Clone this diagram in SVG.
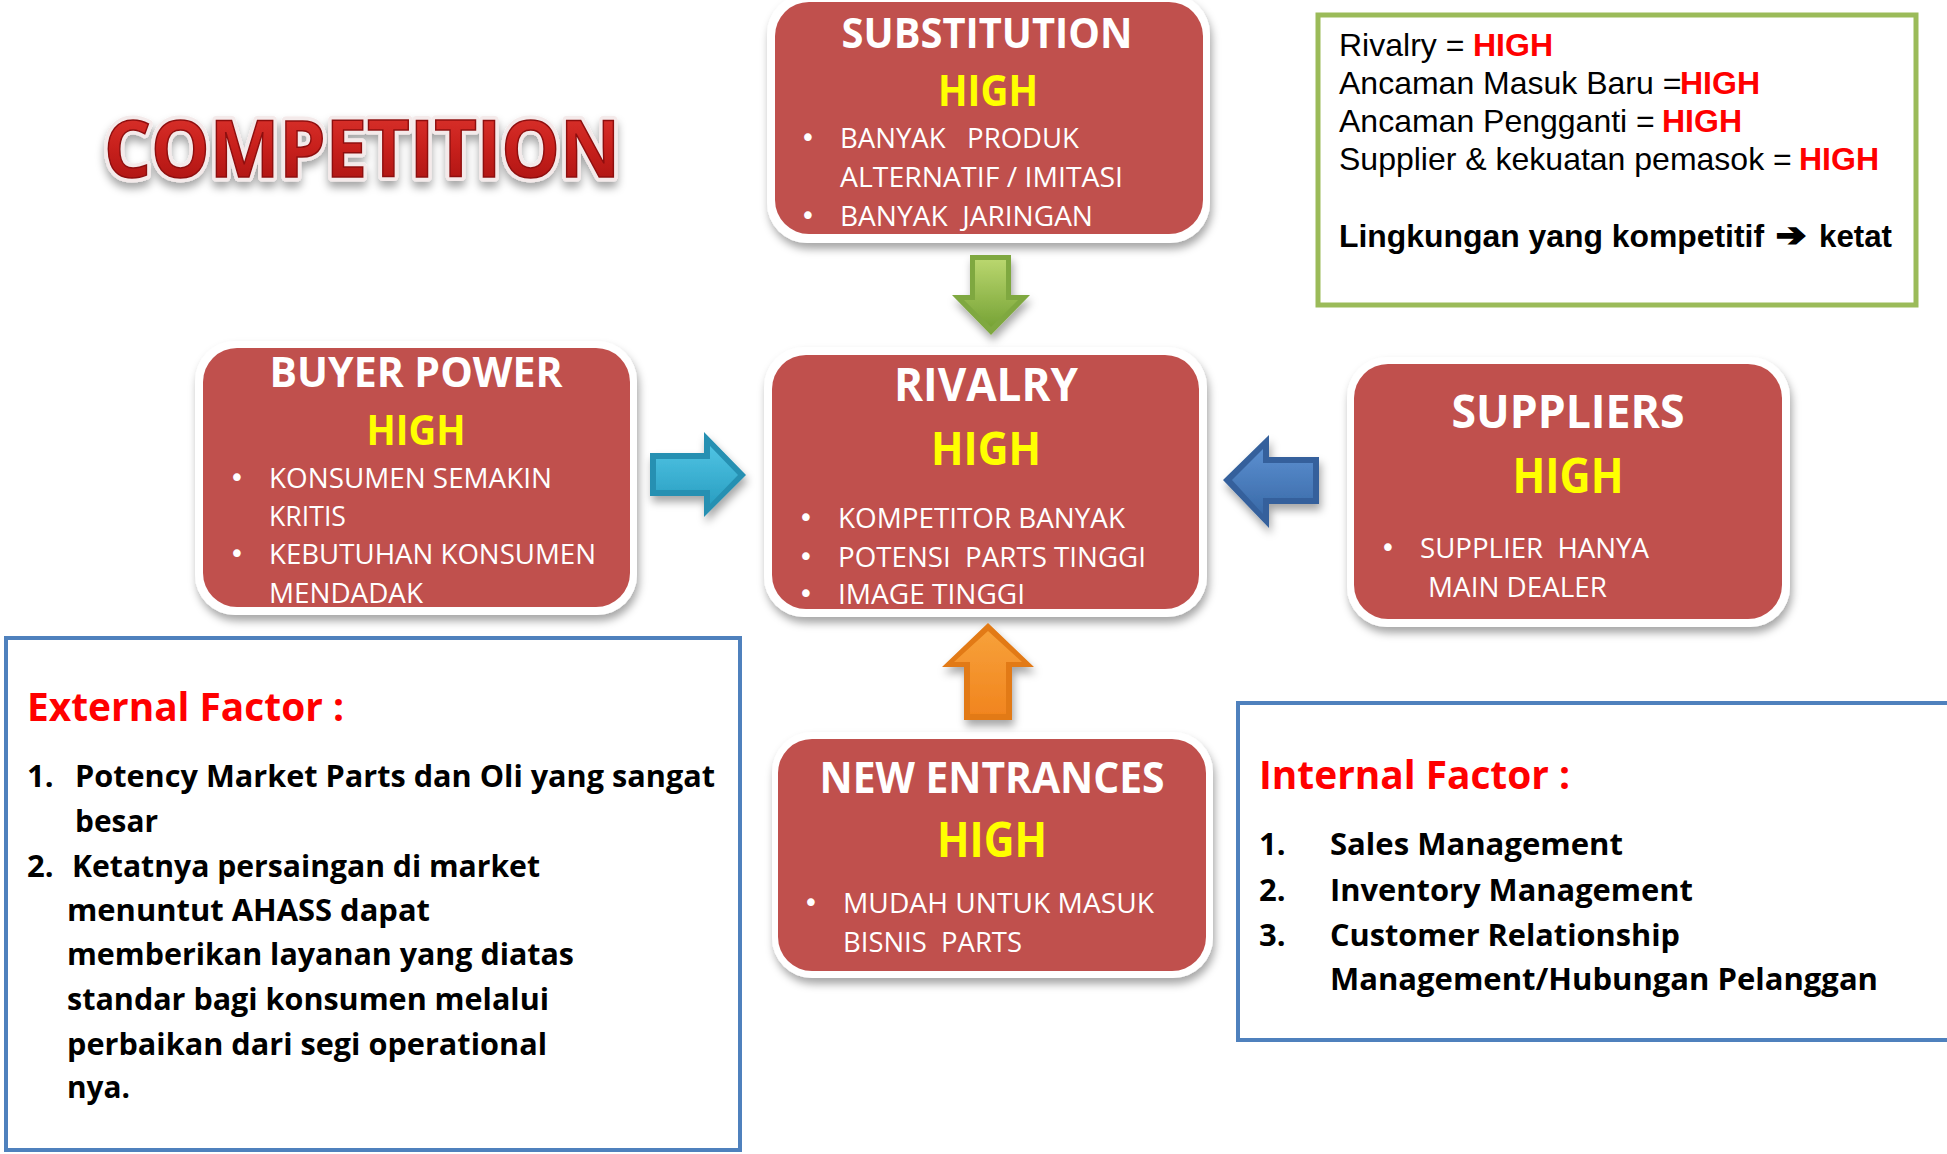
<svg xmlns="http://www.w3.org/2000/svg" width="1947" height="1154" viewBox="0 0 1947 1154">
<defs>
  <filter id="shadow" x="-10%" y="-10%" width="125%" height="130%">
    <feDropShadow dx="2" dy="6" stdDeviation="4" flood-color="#000" flood-opacity="0.35"/>
  </filter>
  <filter id="tshadow" x="-5%" y="-20%" width="110%" height="160%">
    <feDropShadow dx="0" dy="6" stdDeviation="4" flood-color="#000" flood-opacity="0.35"/>
  </filter>
  <linearGradient id="gRed" x1="0" y1="0" x2="0" y2="1">
    <stop offset="0" stop-color="#e23a33"/>
    <stop offset="0.5" stop-color="#c8201c"/>
    <stop offset="1" stop-color="#a3100f"/>
  </linearGradient>
  <linearGradient id="gGreen" x1="0" y1="0" x2="0" y2="1">
    <stop offset="0" stop-color="#b9d66e"/>
    <stop offset="1" stop-color="#77a336"/>
  </linearGradient>
  <linearGradient id="gCyan" x1="0" y1="0" x2="0" y2="1">
    <stop offset="0" stop-color="#4fc3e3"/>
    <stop offset="1" stop-color="#2a9fc2"/>
  </linearGradient>
  <linearGradient id="gBlue" x1="0" y1="0" x2="0" y2="1">
    <stop offset="0" stop-color="#5b8fd0"/>
    <stop offset="1" stop-color="#3a6aa8"/>
  </linearGradient>
  <linearGradient id="gOrange" x1="0" y1="0" x2="0" y2="1">
    <stop offset="0" stop-color="#f7a13a"/>
    <stop offset="1" stop-color="#f1851f"/>
  </linearGradient>
  <style>
    .outer { fill: #ffffff; filter: url(#shadow); }
    .inner { fill: #c0504d; }
    .title { font-family: "Open Sans", Lato, sans-serif; font-weight: bold; fill: #ffffff; text-anchor: middle; }
    .high { font-family: "Open Sans", Lato, sans-serif; font-weight: bold; fill: #ffff00; text-anchor: middle; }
    .bul { font-family: "Open Sans", Lato, sans-serif; font-size: 27px; fill: #ffffff; }
    .dot { font-family: "DejaVu Sans", sans-serif; font-size: 26px; fill: #ffffff; text-anchor: middle; }
    .ar { font-family: "Liberation Sans", Arial, sans-serif; font-size: 32px; fill: #000000; }
    .arb { font-weight: bold; fill: #ff0000; }
    .fac { font-family: "Open Sans", Lato, sans-serif; font-weight: bold; font-size: 40px; fill: #ff0000; }
    .itm { font-family: "Open Sans", Lato, sans-serif; font-weight: bold; font-size: 31px; fill: #000000; }
    .conn { stroke-linejoin: miter; }
  </style>
</defs>
<rect x="0" y="0" width="1947" height="1154" fill="#ffffff"/>

<g id="title">
  <text x="104" y="177" font-family="'Open Sans', Lato, sans-serif" font-weight="bold" font-size="78" textLength="516" lengthAdjust="spacingAndGlyphs" fill="#ffffff" stroke="#f4eaea" stroke-width="9" stroke-linejoin="round" filter="url(#tshadow)">COMPETITION</text>
  <text x="104" y="177" font-family="'Open Sans', Lato, sans-serif" font-weight="bold" font-size="78" textLength="516" lengthAdjust="spacingAndGlyphs" fill="url(#gRed)" stroke="#8e0e0e" stroke-width="1.5">COMPETITION</text>
</g>

<g id="substitution">
  <rect class="outer" x="767" y="-6" width="443" height="249" rx="40"/>
  <rect class="inner" x="775" y="2" width="428" height="232" rx="34"/>
  <text class="title" x="987" y="48" font-size="41" textLength="291" lengthAdjust="spacingAndGlyphs">SUBSTITUTION</text>
  <text class="high" x="988" y="106" font-size="43" textLength="100" lengthAdjust="spacingAndGlyphs">HIGH</text>
  <text class="dot" x="808" y="147">•</text>
  <text class="bul" x="840" y="148" textLength="239" lengthAdjust="spacingAndGlyphs" xml:space="preserve">BANYAK   PRODUK</text>
  <text class="bul" x="840" y="187" textLength="283" lengthAdjust="spacingAndGlyphs">ALTERNATIF / IMITASI</text>
  <text class="dot" x="808" y="225">•</text>
  <text class="bul" x="840" y="226" textLength="253" lengthAdjust="spacingAndGlyphs" xml:space="preserve">BANYAK  JARINGAN</text>
</g>

<g id="buyer-power">
  <rect class="outer" x="195" y="341" width="442" height="274" rx="40"/>
  <rect class="inner" x="203" y="348" width="427" height="259" rx="34"/>
  <text class="title" x="416" y="387" font-size="41" textLength="293" lengthAdjust="spacingAndGlyphs">BUYER POWER</text>
  <text class="high" x="416" y="445" font-size="42" textLength="99" lengthAdjust="spacingAndGlyphs">HIGH</text>
  <text class="dot" x="237" y="487">•</text>
  <text class="bul" x="269" y="488" textLength="283" lengthAdjust="spacingAndGlyphs">KONSUMEN SEMAKIN</text>
  <text class="bul" x="269" y="526" textLength="77" lengthAdjust="spacingAndGlyphs">KRITIS</text>
  <text class="dot" x="237" y="563">•</text>
  <text class="bul" x="269" y="564" textLength="327" lengthAdjust="spacingAndGlyphs">KEBUTUHAN KONSUMEN</text>
  <text class="bul" x="269" y="603" textLength="154" lengthAdjust="spacingAndGlyphs">MENDADAK</text>
</g>

<g id="rivalry">
  <rect class="outer" x="764" y="347" width="443" height="270" rx="40"/>
  <rect class="inner" x="772" y="355" width="427" height="254" rx="34"/>
  <text class="title" x="986" y="401" font-size="47" textLength="184" lengthAdjust="spacingAndGlyphs">RIVALRY</text>
  <text class="high" x="986" y="465" font-size="47" textLength="110" lengthAdjust="spacingAndGlyphs">HIGH</text>
  <text class="dot" x="806" y="527">•</text>
  <text class="bul" x="838" y="528" textLength="287" lengthAdjust="spacingAndGlyphs">KOMPETITOR BANYAK</text>
  <text class="dot" x="806" y="566">•</text>
  <text class="bul" x="838" y="567" textLength="308" lengthAdjust="spacingAndGlyphs" xml:space="preserve">POTENSI  PARTS TINGGI</text>
  <text class="dot" x="806" y="603">•</text>
  <text class="bul" x="838" y="604" textLength="187" lengthAdjust="spacingAndGlyphs">IMAGE TINGGI</text>
</g>

<g id="suppliers">
  <rect class="outer" x="1347" y="357" width="443" height="270" rx="40"/>
  <rect class="inner" x="1354" y="364" width="428" height="255" rx="34"/>
  <text class="title" x="1568" y="428" font-size="47" textLength="233" lengthAdjust="spacingAndGlyphs">SUPPLIERS</text>
  <text class="high" x="1568" y="493" font-size="48" textLength="111" lengthAdjust="spacingAndGlyphs">HIGH</text>
  <text class="dot" x="1388" y="557">•</text>
  <text class="bul" x="1420" y="558" textLength="229" lengthAdjust="spacingAndGlyphs" xml:space="preserve">SUPPLIER  HANYA</text>
  <text class="bul" x="1428" y="597" textLength="179" lengthAdjust="spacingAndGlyphs">MAIN DEALER</text>
</g>

<g id="new-entrances">
  <rect class="outer" x="772" y="732" width="441" height="246" rx="40"/>
  <rect class="inner" x="778" y="739" width="428" height="232" rx="34"/>
  <text class="title" x="992" y="793" font-size="43" textLength="345" lengthAdjust="spacingAndGlyphs">NEW ENTRANCES</text>
  <text class="high" x="992" y="857" font-size="48" textLength="110" lengthAdjust="spacingAndGlyphs">HIGH</text>
  <text class="dot" x="811" y="912">•</text>
  <text class="bul" x="843" y="913" textLength="311" lengthAdjust="spacingAndGlyphs">MUDAH UNTUK MASUK</text>
  <text class="bul" x="843" y="952" textLength="179" lengthAdjust="spacingAndGlyphs" xml:space="preserve">BISNIS  PARTS</text>
</g>

<g id="summary">
  <rect x="1318" y="15" width="598" height="290" fill="#ffffff" stroke="#9bbb59" stroke-width="5"/>
  <text class="ar" x="1339" y="56">Rivalry = <tspan class="arb" x="1473">HIGH</tspan></text>
  <text class="ar" x="1339" y="94">Ancaman Masuk Baru =<tspan class="arb" x="1680">HIGH</tspan></text>
  <text class="ar" x="1339" y="132">Ancaman Pengganti = <tspan class="arb" x="1662">HIGH</tspan></text>
  <text class="ar" x="1339" y="170">Supplier &amp; kekuatan pemasok = <tspan class="arb" x="1799">HIGH</tspan></text>
  <text class="ar" x="1339" y="247" font-weight="bold" textLength="425" lengthAdjust="spacingAndGlyphs">Lingkungan yang kompetitif</text>
  <text x="1776" y="246" font-family="'DejaVu Sans', sans-serif" font-size="32" font-weight="bold" fill="#000000" stroke="#000000" stroke-width="2" textLength="30" lengthAdjust="spacingAndGlyphs">➔</text>
  <text class="ar" x="1819" y="247" font-weight="bold" fill="#ff0000" textLength="73" lengthAdjust="spacingAndGlyphs">ketat</text>
</g>

<g id="external-factor">
  <rect x="6" y="638" width="734" height="512" fill="none" stroke="#4f81bd" stroke-width="4"/>
  <text class="fac" x="27" y="721" textLength="317" lengthAdjust="spacingAndGlyphs">External Factor :</text>
  <text class="itm" x="27" y="787">1.</text>
  <text class="itm" x="75" y="787" textLength="640" lengthAdjust="spacingAndGlyphs">Potency Market Parts dan Oli yang sangat</text>
  <text class="itm" x="75" y="832" textLength="83" lengthAdjust="spacingAndGlyphs">besar</text>
  <text class="itm" x="27" y="877">2.</text>
  <text class="itm" x="72" y="877" textLength="468" lengthAdjust="spacingAndGlyphs">Ketatnya persaingan di market</text>
  <text class="itm" x="67" y="921" textLength="363" lengthAdjust="spacingAndGlyphs">menuntut AHASS dapat</text>
  <text class="itm" x="67" y="965" textLength="507" lengthAdjust="spacingAndGlyphs">memberikan layanan yang diatas</text>
  <text class="itm" x="67" y="1010" textLength="482" lengthAdjust="spacingAndGlyphs">standar bagi konsumen melalui</text>
  <text class="itm" x="67" y="1055" textLength="480" lengthAdjust="spacingAndGlyphs">perbaikan dari segi operational</text>
  <text class="itm" x="67" y="1098" textLength="63" lengthAdjust="spacingAndGlyphs">nya.</text>
</g>

<g id="internal-factor">
  <rect x="1238" y="703" width="730" height="337" fill="none" stroke="#4f81bd" stroke-width="4"/>
  <text class="fac" x="1259" y="789" textLength="311" lengthAdjust="spacingAndGlyphs">Internal Factor :</text>
  <text class="itm" x="1259" y="855" font-size="32">1.</text>
  <text class="itm" x="1330" y="855" font-size="32" textLength="293" lengthAdjust="spacingAndGlyphs">Sales Management</text>
  <text class="itm" x="1259" y="901" font-size="32">2.</text>
  <text class="itm" x="1330" y="901" font-size="32" textLength="363" lengthAdjust="spacingAndGlyphs">Inventory Management</text>
  <text class="itm" x="1259" y="946" font-size="32">3.</text>
  <text class="itm" x="1330" y="946" font-size="32" textLength="350" lengthAdjust="spacingAndGlyphs">Customer Relationship</text>
  <text class="itm" x="1330" y="990" font-size="32" textLength="548" lengthAdjust="spacingAndGlyphs">Management/Hubungan Pelanggan</text>
</g>

<g id="connectors" filter="url(#shadow)">
  <!-- substitution -> rivalry (green, down) -->
  <g>
    <polygon class="conn" points="970,255 1011,255 1011,295 1030,295 991,335 952,295 970,295" fill="#7fa83f"/>
    <polygon points="975,260 1006,260 1006,300 1018,300 991,327 964,300 975,300" fill="url(#gGreen)"/>
  </g>
  <!-- buyer power -> rivalry (cyan, right) -->
  <g>
    <polygon class="conn" points="650,453 704,453 704,432 746,475 704,517 704,496 650,496" fill="#2690b2"/>
    <polygon points="656,459 710,459 710,446 738,475 710,504 710,490 656,490" fill="url(#gCyan)"/>
  </g>
  <!-- suppliers -> rivalry (blue, left) -->
  <g>
    <polygon class="conn" points="1319,457 1269,457 1269,435 1223,480 1269,528 1269,504 1319,504" fill="#34619c"/>
    <polygon points="1313,463 1263,463 1263,449 1232,480 1263,514 1263,498 1313,498" fill="url(#gBlue)"/>
  </g>
  <!-- new entrances -> rivalry (orange, up) -->
  <g>
    <polygon class="conn" points="988,623 1034,667 1012,667 1012,720 964,720 964,667 942,667" fill="#e27a16"/>
    <polygon points="988,631 1022,662 1006,662 1006,714 970,714 970,662 954,662" fill="url(#gOrange)"/>
  </g>
</g>
</svg>
